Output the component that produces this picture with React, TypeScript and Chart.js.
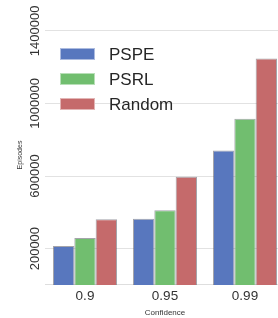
import React, { useEffect, useRef } from "react";
import { Chart, registerables } from "chart.js";

Chart.register(...registerables);

const categories = ["0.9", "0.95", "0.99"];
const pspe = [215000, 365000, 741000];
const psrl = [259000, 411000, 915000];
const randomVals = [362000, 596000, 1248000];
const yTicks = [200000, 600000, 1000000, 1400000];
const seriesNames = ["PSPE", "PSRL", "Random"];
const colors = ["rgb(88,119,190)", "rgb(113,190,111)", "rgb(197,106,107)"];
const xTitle = "Confidence";
const yTitle = "Episodes";

const FONT = "'Liberation Sans', Arial, sans-serif";

const overlayPlugin = {
  id: "overlay",
  afterDatasetsDraw(chart: any) {
    const ctx = chart.ctx;
    const y = chart.scales.y;
    ctx.save();
    ctx.fillStyle = "#333333";
    ctx.font = `13px ${FONT}`;
    ctx.textAlign = "center";
    ctx.textBaseline = "middle";
    yTicks.forEach((v) => {
      const py = y.getPixelForValue(v);
      ctx.save();
      ctx.translate(35, py);
      ctx.rotate(-Math.PI / 2);
      ctx.fillText(String(v), 0, 0);
      ctx.restore();
    });
    ctx.save();
    ctx.font = `7px ${FONT}`;
    ctx.translate(20, 155);
    ctx.rotate(-Math.PI / 2);
    ctx.fillText(yTitle, 0, 0);
    ctx.restore();
    chart.data.datasets.forEach((ds: any, i: number) => {
      const cy = 54 + i * 25;
      ctx.fillStyle = ds.backgroundColor;
      ctx.fillRect(60, cy - 6, 35, 12);
      ctx.strokeStyle = "rgba(255,255,255,0.5)";
      ctx.lineWidth = 1;
      ctx.strokeRect(60.5, cy - 5.5, 34, 11);
      ctx.fillStyle = "#262626";
      ctx.font = `17px ${FONT}`;
      ctx.textAlign = "left";
      ctx.textBaseline = "middle";
      ctx.fillText(ds.label, 109, cy + 1);
    });
    ctx.restore();
  },
};

export default function App() {
  const ref = useRef<HTMLCanvasElement>(null);
  useEffect(() => {
    document.body.style.overflow = "hidden";
    const chart = new Chart(ref.current!, {
      type: "bar",
      data: {
        labels: categories,
        datasets: [pspe, psrl, randomVals].map((d, i) => ({
          label: seriesNames[i],
          data: d,
          backgroundColor: colors[i],
          borderColor: "rgba(90,90,100,0.55)",
          borderWidth: 1,
          categoryPercentage: 0.8,
          barPercentage: 1,
        })),
      },
      options: {
        animation: false,
        responsive: true,
        maintainAspectRatio: false,
        layout: { padding: { left: 45, top: 0, right: 0, bottom: 0 } },
        plugins: { legend: { display: false }, tooltip: { enabled: false } },
        scales: {
          x: {
            grid: { display: false, drawTicks: false },
            border: { display: true, color: "#dedede", width: 1 },
            ticks: {
              padding: 5,
              color: "#333333",
              font: { size: 13.5, family: FONT, lineHeight: 1 },
            },
            title: {
              display: true,
              text: xTitle,
              color: "#333333",
              font: { size: 8, family: FONT },
              padding: { top: 0, bottom: 0 },
            },
          },
          y: {
            min: 0,
            max: 1570000,
            afterBuildTicks: (scale: any) => {
              scale.ticks = yTicks.map((v) => ({ value: v }));
            },
            grid: { color: "#e2e2e2", lineWidth: 1, drawTicks: false },
            border: { display: false },
            ticks: { display: false },
          },
        },
      },
      plugins: [overlayPlugin],
    });
    return () => chart.destroy();
  }, []);
  return (
    <div style={{ position: "fixed", left: 0, top: 0, width: 278, height: 318, overflow: "hidden", background: "#fff" }}>
      <div style={{ position: "absolute", left: 0, top: 0, width: 285, height: 318 }}>
        <canvas ref={ref} />
      </div>
    </div>
  );
}
